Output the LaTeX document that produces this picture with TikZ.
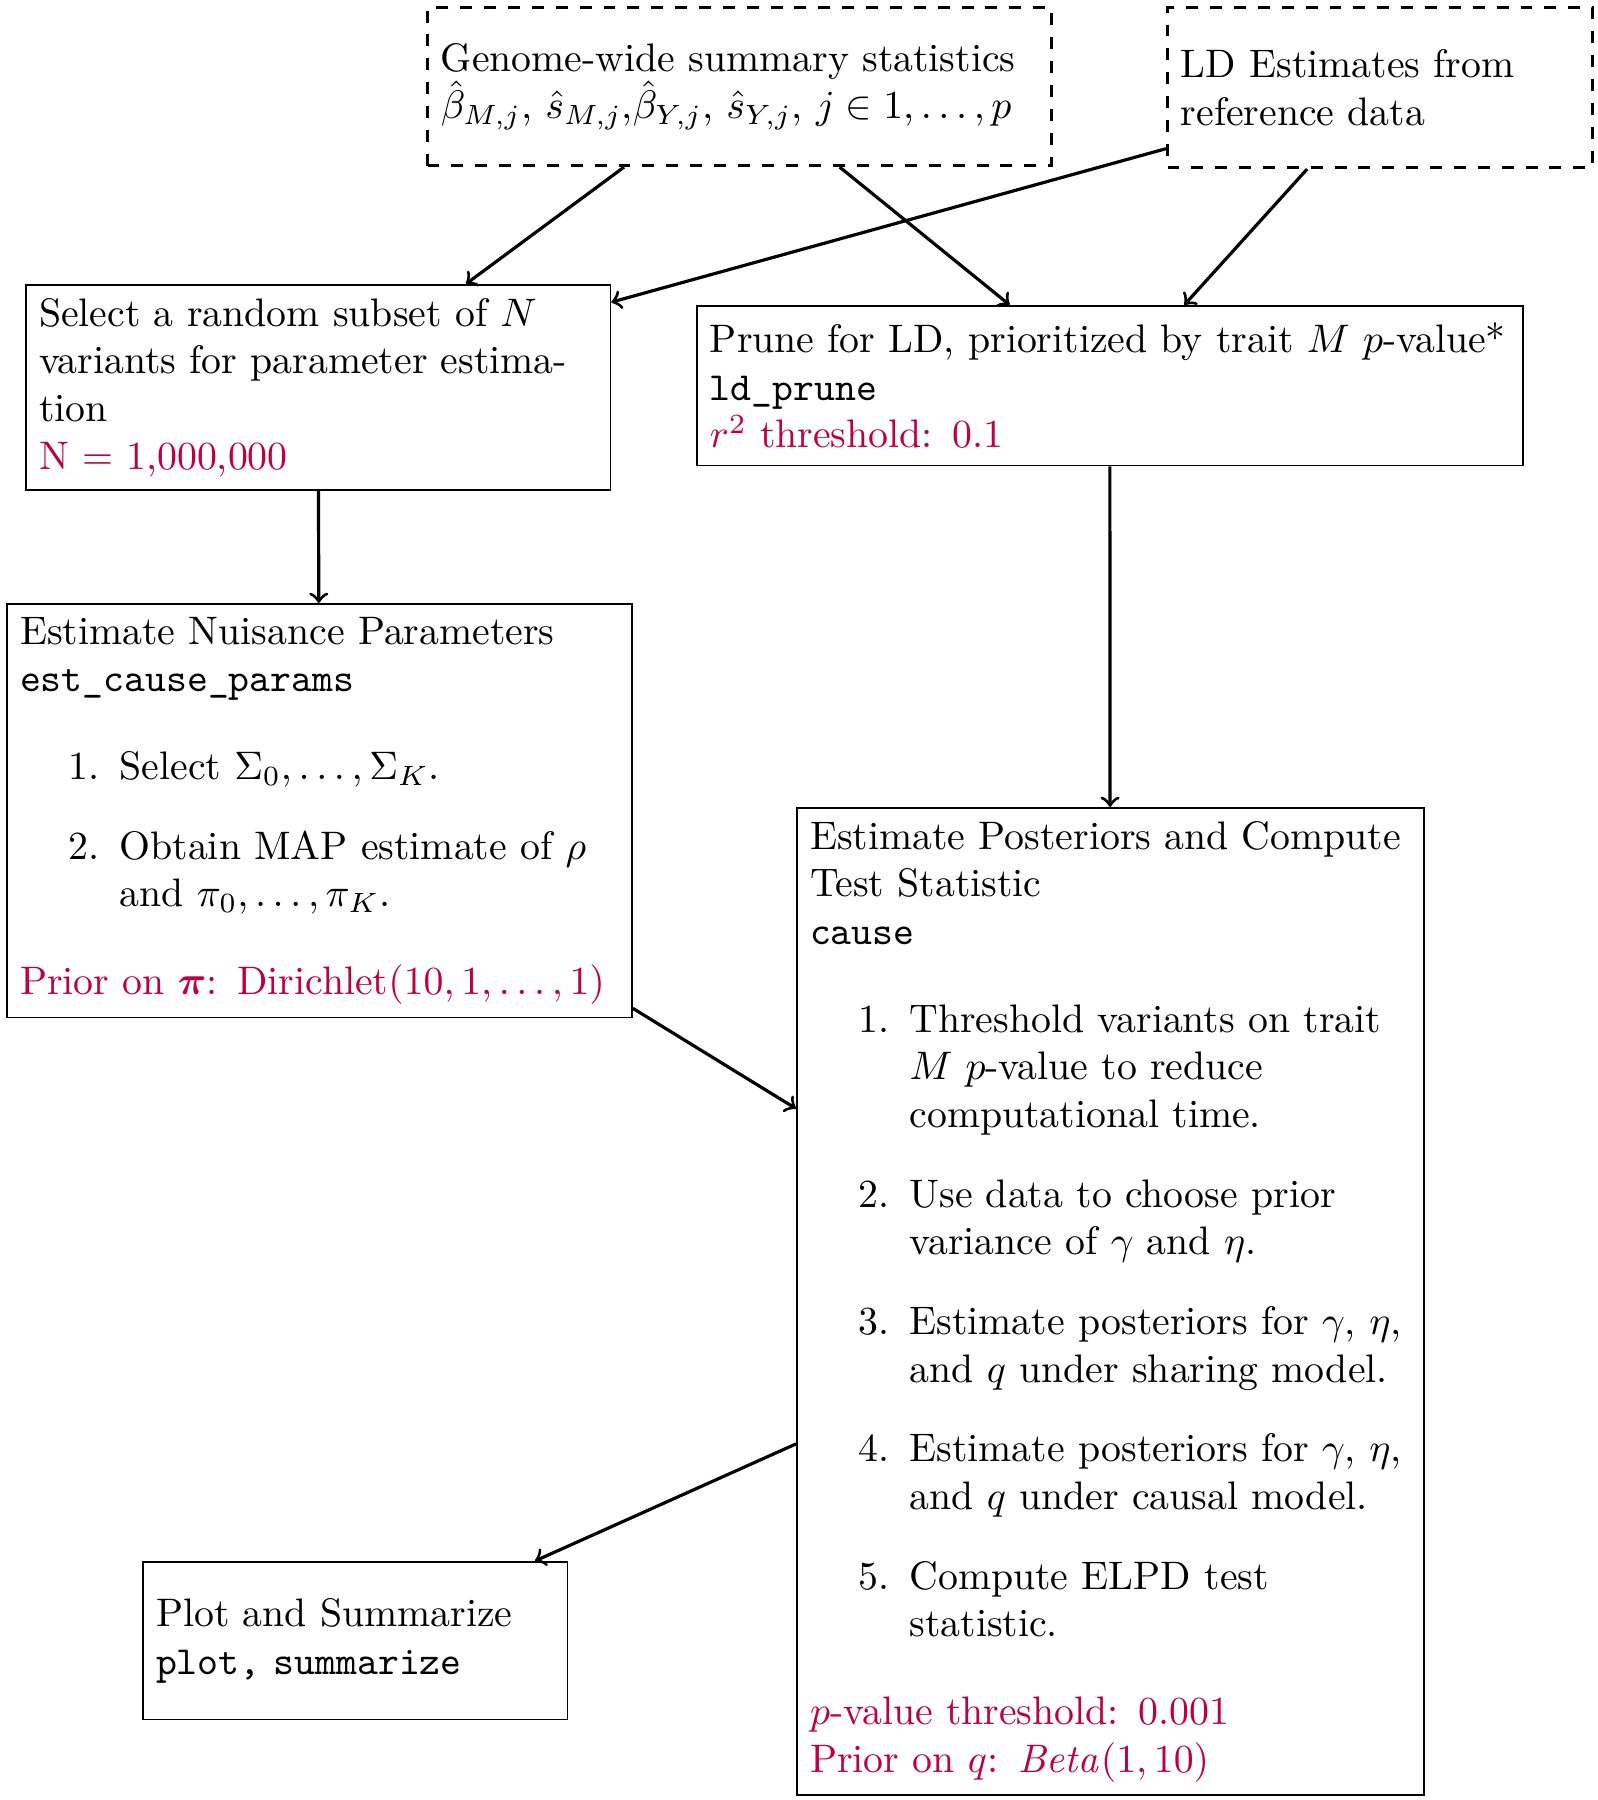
\documentclass[tikz,border=0pt]{standalone}
\usepackage{amsmath,bm}
\usetikzlibrary{calc}
\begin{document}
\begin{tikzpicture}[
  box/.style={draw, anchor=north west, align=left},
  dbox/.style={box, thick, dashed},
  arr/.style={thick, ->}]
  \useasboundingbox (0,0) rectangle (14.117,-15.902);
  % inputs
  \node[dbox, text width=150.1pt, minimum height=39.7pt] (gwas) at (3.763,-0.053)
    {Genome-wide summary statistics\\
     $\hat{\beta}_{M,j}$, $\hat{s}_{M,j}$,$\hat{\beta}_{Y,j}$, $\hat{s}_{Y,j}$, $j \in 1, \ldots, p$};
  \node[dbox, text width=100.1pt, minimum height=40.2pt] (ld) at (10.300,-0.053)
    {LD Estimates from reference data};
  % steps
  \node[box, text width=140.3pt] (subset) at (0.221,-2.509)
    {Select a random subset of $N$ variants for parameter estimation\\
     {\color{purple}N = 1,000,000}};
  \node[box, text width=201pt, minimum height=40.2pt] (prune) at (6.148,-2.694)
    {Prune for LD, prioritized by trait $M$ $p$-value*\\
     \texttt{ld\_prune}\\
     {\color{purple}$r^2$ threshold: 0.1}};
  \node[box, text width=150.5pt] (nuis) at (0.053,-5.327)
    {Estimate Nuisance Parameters\\
     \texttt{est\_cause\_params}\par
     \begin{enumerate}
       \item Select $\Sigma_0, \ldots, \Sigma_K$.
       \item Obtain MAP estimate of $\rho$ and $\pi_0, \ldots, \pi_K$.
     \end{enumerate}
     {\color{purple}Prior on $\bm{\pi}$: Dirichlet$(10, 1, \ldots, 1)$}};
  \node[box, text width=151pt] (post) at (7.032,-7.129)
    {Estimate Posteriors and Compute Test Statistic\\
     \texttt{cause}\par
     \begin{enumerate}
       \item Threshold variants on trait $M$ $p$-value to reduce computational time.
       \item Use data to choose prior variance of $\gamma$ and $\eta$.
       \item Estimate posteriors for $\gamma$, $\eta$, and $q$ under sharing model.
       \item Estimate posteriors for $\gamma$, $\eta$, and $q$ under causal model.
       \item Compute ELPD test statistic.
     \end{enumerate}
     {\color{purple}$p$-value threshold: 0.001\\
     Prior on $q$: $\mathit{Beta}(1, 10)$}};
  \node[box, text width=100.1pt, minimum height=39.7pt] (plot) at (1.254,-13.790)
    {Plot and Summarize\\
     \texttt{plot, summarize}};
  % arrows
  \draw[arr] ($(gwas.south west)!0.316!(gwas.south east)$) -- ($(subset.north west)!0.752!(subset.north east)$);
  \draw[arr] ($(gwas.south west)!0.66!(gwas.south east)$) -- ($(prune.north west)!0.379!(prune.north east)$);
  \draw[arr] ($(ld.north west)!0.875!(ld.south west)$) -- ($(subset.north east)!0.088!(subset.south east)$);
  \draw[arr] ($(ld.south west)!0.33!(ld.south east)$) -- ($(prune.north west)!0.59!(prune.north east)$);
  \draw[arr] (subset) -- (nuis);
  \draw[arr] (prune) -- (post);
  \draw[arr] ($(nuis.north east)!0.976!(nuis.south east)$) -- ($(post.north west)!0.305!(post.south west)$);
  \draw[arr] ($(post.north west)!0.644!(post.south west)$) -- ($(plot.north west)!0.922!(plot.north east)$);
\end{tikzpicture}
\end{document}
